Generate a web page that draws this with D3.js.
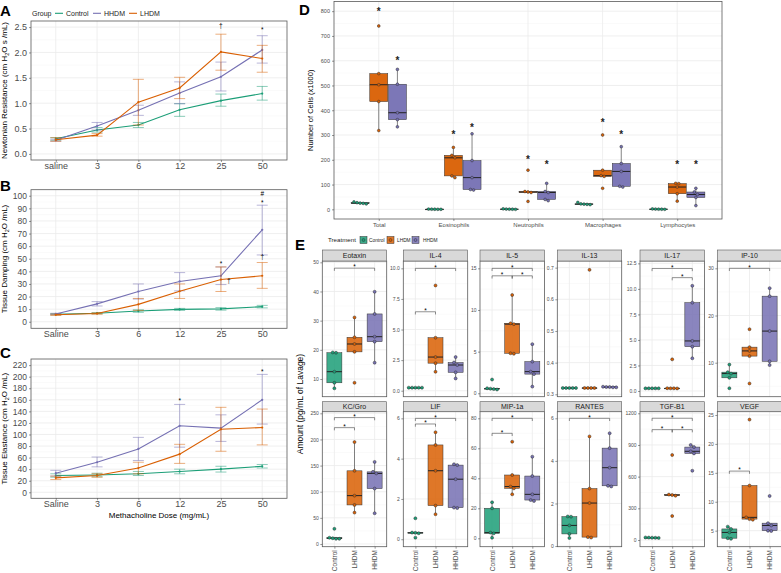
<!DOCTYPE html>
<html>
<head>
<meta charset="utf-8">
<script src="https://cdn.jsdelivr.net/npm/d3@7/dist/d3.min.js"></script>
<style>
html,body{margin:0;padding:0;background:#fff;}
svg{display:block;}
</style>
</head>
<body>
<svg id="chart" width="781" height="573"></svg>
<script>
// ================= DATA =================
// Panels A-C : methacholine dose response (mean, lower / upper error)
const doseLabelsA = ["saline","3","6","12","25","50"];
const doseLabelsBC = ["Saline","3","6","12","25","50"];
const lineGroups = ["Control","HHDM","LHDM"];

const resistanceMean = {Control:[0.30,0.47,0.57,0.87,1.05,1.19], HHDM:[0.27,0.55,0.86,1.20,1.52,2.05], LHDM:[0.28,0.37,1.02,1.30,2.01,1.88]};
const resistanceLow  = {Control:[0.27,0.43,0.52,0.74,0.94,1.06], HHDM:[0.25,0.47,0.76,0.99,1.24,1.79], LHDM:[0.25,0.35,0.57,1.09,1.65,1.61]};
const resistanceHigh = {Control:[0.32,0.52,0.62,0.99,1.18,1.33], HHDM:[0.29,0.62,0.96,1.42,1.81,2.33], LHDM:[0.32,0.40,1.47,1.51,2.36,2.14]};
const resistanceTicks = [0,0.5,1,1.5,2,2.5];
const resistanceMarks = [{dose:"25",value:2.53,label:"†"},{dose:"50",value:2.47,label:"*"}];

const dampingMean = {Control:[6.0,6.8,8.5,9.8,10.2,12.0], HHDM:[6.2,14.2,24,32,36.5,73], LHDM:[5.5,6.5,13.8,24.2,33.5,36.5]};
const dampingLow  = {Control:[5.5,6.3,7.5,9.0,9.2,11.0], HHDM:[5.7,12.5,18,24.5,29.5,53], LHDM:[5.0,6.0,9,18.5,24,26.5]};
const dampingHigh = {Control:[6.5,7.3,9.5,10.6,11.2,13.0], HHDM:[6.7,16,30,39,43.5,92.5], LHDM:[6.0,7.0,18.5,30,43.5,47]};
const dampingTicks = [0,10,20,30,40,50,60,70,80,90,100];
const dampingMarks = [{dose:"25",value:47,label:"*"},{dose:"25",value:32,label:"†",side:"right"},{dose:"50",value:102,label:"#"},{dose:"50",value:95.5,label:"*"},{dose:"50",value:51.5,label:"†"}];

const elastanceMean = {Control:[29,30,32,36,40,45], HHDM:[33,52,75,115,111,160], LHDM:[25,29,42,66,109,112]};
const elastanceLow  = {Control:[26,27,29,32,35,42], HHDM:[28,44,55,78,88,118], LHDM:[22,26,32,50,71,82]};
const elastanceHigh = {Control:[32,33,36,40,45,48], HHDM:[38,61,95,152,134,204], LHDM:[28,32,52,83,147,144]};
const elastanceTicks = [0,20,40,60,80,100,120,140,160,180,200,220];
const elastanceMarks = [{dose:"12",value:161,label:"*"},{dose:"50",value:211,label:"*"}];

// Panel D : BAL cell counts (x1000), five animals per group
const cellTypes = ["Total","Eosinophils","Neutrophils","Macrophages","Lymphocytes"];
const boxTreatments = ["Control","LHDM","HHDM"];
const cellsControl = [[30,27,25,24,22],[1,0.5,0.3,0.2,0],[2,1,0.5,0.3,0],[28,22,21,20,19],[1.5,1,0.5,0.3,0]];
const cellsLHDM = [[740,548,503,435,318],[250,218,208,135,128],[158,72,70,68,32],[300,158,136,133,85],[105,104,90,63,33]];
const cellsHHDM = [[565,505,390,362,333],[305,197,128,80,78],[105,72,68,40,35],[253,185,153,93,90],[85,70,60,48,15]];
const cellStarsLHDM = [808,310,210,360,190];
const cellStarsHHDM = [610,340,190,310,190];
const cellTicks = [0,100,200,300,400,500,600,700,800];

// Panel E : cytokines (pg/mL of lavage)
const cytokines = ["Eotaxin","IL-4","IL-5","IL-13","IL-17","IP-10","KC/Gro","LIF","MIP-1a","RANTES","TGF-B1","VEGF"];
const cytoControl = [
 [19.1,19.0,12.5,8.7,6.8],[0.25,0.25,0.25,0.25,0.25],[1.65,0.6,0.55,0.5,0.45],[0.32,0.32,0.32,0.32,0.32],
 [0.26,0.26,0.26,0.26,0.26],[9.6,8.0,7.7,6.8,4.6],[29,12,11,10,10],[1.04,0.33,0.32,0.30,0.08],
 [24,20,3.8,3.3,0.4],[1.39,1.38,0.97,0.57,0.38],[24,23,22,21,20],[5.7,5.3,4.7,3.7,3.6]];
const cytoLHDM = [
 [31.1,24.3,22,19.3,8.7],[8.6,4.33,2.75,2.25,1.55],[11.8,8.4,8.3,4.8,4.75],[0.693,0.32,0.32,0.32,0.32],
 [3.1,0.27,0.26,0.26,0.25],[17.1,13.3,12.5,11.4,5.6],[195,140,92.5,74.7,60],[5.31,4.68,3.4,1.67,1.24],
 [64.4,42.2,34.5,33.3,29.3],[5.15,2.7,2.02,0.42,0.40],[805,430,426,420,227],[24.2,12.8,7.3,7.0,6.9]];
const cytoHHDM = [
 [39.9,32.3,24.5,22.8,15.6],[2.75,2.3,2.1,1.5,1.0],[5.9,3.8,2.6,2.3,0.8],[0.324,0.323,0.323,0.322,0.322],
 [10.3,8.65,4.9,4.34,3.2],[25.8,24.1,16.7,10.3,9.5],[157,138,135,106,58.8],[3.72,3.68,2.98,1.57,1.55],
 [54.4,41.5,29.3,25.5,24.9],[5.3,4.6,3.68,2.83,2.8],[900,880,840,820,656],[11.0,6.3,5.9,5.0,4.95]];
const cytoRange = [[3.93,50.45],[-0.49,10.6],[-0.41,15.88],[0.2924,0.721],[-0.56,12.73],[2.8,31.55],
 [-5.2,253.1],[-0.37,6.33],[-5.6,84.4],[-0.03,6.31],[-63.5,1215],[2.23,25.57]];
const cytoTicks = [[10,20,30,40,50],[0,2.5,5,7.5,10],[0,5,10,15],[0.3,0.4,0.5,0.6,0.7],[0,2.5,5,7.5,10,12.5],[10,20,30],
 [0,50,100,150,200,250],[0,2,4,6],[0,20,40,60,80],[0,2,4,6],[0,300,600,900,1200],[5,10,15,20,25]];
const cytoFormat = ["d",".1f","d",".1f",".1f","d","d","d","d","d","d","d"];
const cytoBrackets = [
 [["Control","HHDM",48]],
 [["Control","LHDM",6.45],["Control","HHDM",10.0]],
 [["Control","LHDM",14.1],["LHDM","HHDM",14.1],["Control","HHDM",15.0]],
 [],
 [["LHDM","HHDM",11.1],["Control","HHDM",12.0]],
 [["Control","HHDM",30]],
 [["Control","LHDM",222.6],["Control","HHDM",241.8]],
 [["Control","LHDM",5.72],["Control","HHDM",6.0]],
 [["Control","LHDM",70],["Control","HHDM",80]],
 [["Control","HHDM",6.0]],
 [["Control","LHDM",1045],["LHDM","HHDM",1045],["Control","HHDM",1153]],
 [["Control","LHDM",15.3]]];

// ================= DRAWING =================
const FONT = "'Liberation Sans', Arial, Helvetica, sans-serif";
const COL = {Control:"#1B9E77", LHDM:"#D95F02", HHDM:"#7570B3"};
const GRID_MAJOR = "#ebebeb", GRID_MINOR = "#f5f5f5", BORDER = "#5a5a5a", AXIS_TXT = "#4d4d4d";
const svg = d3.select("#chart").attr("font-family", FONT);
svg.append("rect").attr("width",781).attr("height",573).attr("fill","#fff");

function minorTicks(ticks, domain){
  const step = ticks[1]-ticks[0], res=[];
  for(let i=-1;i<ticks.length;i++){
    const t = ticks[0] + step*(i+0.5);
    if(t>=domain[0] && t<=domain[1]) res.push(t);
  }
  return res;
}
function frame(g,l,t,r,b){ g.append("rect").attr("x",l).attr("y",t).attr("width",r-l).attr("height",b-t).attr("fill","#fff"); }
function border(g,l,t,r,b){ g.append("rect").attr("x",l).attr("y",t).attr("width",r-l).attr("height",b-t).attr("fill","none").attr("stroke",BORDER).attr("stroke-width",0.8); }
function hGrid(g,y,l,r,vals,color,w){
  g.append("g").selectAll("line").data(vals).join("line")
   .attr("x1",l).attr("x2",r).attr("y1",d=>y(d)).attr("y2",d=>y(d)).attr("stroke",color).attr("stroke-width",w);
}
function vGrid(g,xs,t,b,color,w){
  g.append("g").selectAll("line").data(xs).join("line")
   .attr("x1",d=>d).attr("x2",d=>d).attr("y1",t).attr("y2",b).attr("stroke",color).attr("stroke-width",w);
}
function styleAxis(a,fs){
  a.attr("font-family",FONT);
  a.select(".domain").remove();
  a.selectAll(".tick line").attr("stroke","#333").attr("stroke-width",0.5);
  a.selectAll(".tick text").attr("fill",AXIS_TXT).attr("font-size",fs);
}
function symbolText(g,x,y,s,fs){
  const off = s==="*" ? 0.55 : (s==="#" ? 0.36 : 0.3);
  g.append("text").attr("x",x).attr("y",y+off*fs).attr("text-anchor","middle")
   .attr("font-size",fs).attr("fill","#000").text(s);
}
function panelLetter(x,y,s){
  svg.append("text").attr("x",x).attr("y",y).attr("font-size",15).attr("font-weight","bold").attr("fill","#000").text(s);
}

function linePanel(o){
  const g = svg.append("g");
  const x = d3.scalePoint().domain(o.cats).range([o.l,o.r]).padding(0.6);
  const y = d3.scaleLinear().domain(o.domain).range([o.b,o.t]);
  frame(g,o.l,o.t,o.r,o.b);
  hGrid(g,y,o.l,o.r,minorTicks(o.ticks,o.domain),GRID_MINOR,0.5);
  hGrid(g,y,o.l,o.r,o.ticks,GRID_MAJOR,0.8);
  vGrid(g,o.cats.map(c=>x(c)),o.t,o.b,GRID_MAJOR,0.8);
  lineGroups.forEach(gr=>{
    const m=o.mean[gr], lo=o.low[gr], hi=o.high[gr], c=COL[gr];
    const eb = g.append("g").attr("stroke",c).attr("stroke-opacity",0.5).attr("stroke-width",1);
    o.cats.forEach((cat,i)=>{
      const cx=x(cat);
      eb.append("line").attr("x1",cx).attr("x2",cx).attr("y1",y(lo[i])).attr("y2",y(hi[i]));
      eb.append("line").attr("x1",cx-5.5).attr("x2",cx+5.5).attr("y1",y(lo[i])).attr("y2",y(lo[i]));
      eb.append("line").attr("x1",cx-5.5).attr("x2",cx+5.5).attr("y1",y(hi[i])).attr("y2",y(hi[i]));
    });
    g.append("path").datum(m).attr("d",d3.line().x((d,i)=>x(o.cats[i])).y(d=>y(d)))
     .attr("fill","none").attr("stroke",c).attr("stroke-width",1.1);
    g.append("g").selectAll("circle").data(m).join("circle")
     .attr("cx",(d,i)=>x(o.cats[i])).attr("cy",d=>y(d)).attr("r",1.1).attr("fill",c);
  });
  border(g,o.l,o.t,o.r,o.b);
  const ya = g.append("g").attr("transform",`translate(${o.l},0)`)
    .call(d3.axisLeft(y).tickValues(o.ticks).tickSize(2).tickPadding(2).tickFormat(d3.format(o.fmt)));
  styleAxis(ya,o.yfs);
  const xa = g.append("g").attr("transform",`translate(0,${o.b})`)
    .call(d3.axisBottom(x).tickSize(2).tickPadding(0.5));
  styleAxis(xa,9);
  o.marks.forEach(mk=>symbolText(g,x(mk.dose)+(mk.side==="right"?8:0),y(mk.value),mk.label,6.5));
  const tt = g.append("text").attr("transform",`translate(7,${(o.t+o.b)/2}) rotate(-90)`)
    .attr("text-anchor","middle").attr("font-size",8).attr("fill","#000");
  tt.append("tspan").text(o.title[0]);
  tt.append("tspan").attr("font-size",5.5).attr("dy",1.8).text("2");
  tt.append("tspan").attr("dy",-1.8).text(o.title[1]);
  return {x,y,g};
}

// ---------- Panel A ----------
panelLetter(0,15.5,"A");
linePanel({l:31,r:287,t:21,b:160,cats:doseLabelsA,domain:[-0.12,2.62],ticks:resistanceTicks,fmt:".1f",yfs:9,
  mean:resistanceMean,low:resistanceLow,high:resistanceHigh,marks:resistanceMarks,
  title:["Newtonian Resistance (cm H","O s /mL)"]});
// legend A
(function(){
  const g = svg.append("g").attr("font-size",7).attr("fill","#1a1a1a");
  g.append("text").attr("x",32).attr("y",13.3).attr("dy","0.35em").text("Group");
  const items=[["Control",55,66],["HHDM",93,104],["LHDM",129,140]];
  items.forEach(([k,kx,tx])=>{
    g.append("line").attr("x1",kx).attr("x2",kx+8).attr("y1",13.3).attr("y2",13.3).attr("stroke",COL[k]).attr("stroke-width",1.1);
    g.append("text").attr("x",tx).attr("y",13.3).attr("dy","0.35em").text(k);
  });
})();

// ---------- Panel B ----------
panelLetter(0,190.5,"B");
linePanel({l:31,r:287,t:189.7,b:328.3,cats:doseLabelsBC,domain:[-5.2,104.8],ticks:dampingTicks,fmt:"d",yfs:8.5,
  mean:dampingMean,low:dampingLow,high:dampingHigh,marks:dampingMarks,
  title:["Tissue Damping (cm H","O /mL)"]});

// ---------- Panel C ----------
panelLetter(0,357.5,"C");
linePanel({l:31,r:287,t:359,b:498.3,cats:doseLabelsBC,domain:[-10.4,230.6],ticks:elastanceTicks,fmt:"d",yfs:8.5,
  mean:elastanceMean,low:elastanceLow,high:elastanceHigh,marks:elastanceMarks,
  title:["Tissue Elastance (cm H","O /mL)"]});
svg.append("text").attr("x",159).attr("y",515).attr("dy","0.35em").attr("text-anchor","middle")
  .attr("font-size",8).attr("fill","#000").text("Methacholine Dose (mg/mL)");

// ---------- box helpers ----------
function boxStats(vals){
  const s = vals.slice().sort(d3.ascending);
  const q1=d3.quantileSorted(s,0.25), md=d3.quantileSorted(s,0.5), q3=d3.quantileSorted(s,0.75), iqr=q3-q1;
  const lo=d3.min(s.filter(v=>v>=q1-1.5*iqr-1e-9)), hi=d3.max(s.filter(v=>v<=q3+1.5*iqr+1e-9));
  return {s,q1,md,q3,lo,hi};
}
function drawBox(g,cx,w,y,vals,color,fillOp){
  const b = boxStats(vals), lc="#333";
  g.append("line").attr("x1",cx).attr("x2",cx).attr("y1",y(b.q3)).attr("y2",y(b.hi)).attr("stroke",lc).attr("stroke-width",0.6);
  g.append("line").attr("x1",cx).attr("x2",cx).attr("y1",y(b.q1)).attr("y2",y(b.lo)).attr("stroke",lc).attr("stroke-width",0.6);
  const top=y(b.q3), h=Math.max(y(b.q1)-y(b.q3),0.6);
  g.append("rect").attr("x",cx-w/2).attr("y",top).attr("width",w).attr("height",h)
   .attr("fill",color).attr("fill-opacity",fillOp).attr("stroke",lc).attr("stroke-width",0.5);
  g.append("line").attr("x1",cx-w/2).attr("x2",cx+w/2).attr("y1",y(b.md)).attr("y2",y(b.md)).attr("stroke","#222").attr("stroke-width",1);
}
function drawSwarm(g,cx,y,vals,color,r,gap){
  const pts = vals.map(v=>({v,py:y(v)})).sort((a,b)=>a.py-b.py);
  const clusters=[]; let cur=[pts[0]];
  for(let i=1;i<pts.length;i++){
    if(pts[i].py-cur[cur.length-1].py < 2*r) cur.push(pts[i]); else {clusters.push(cur); cur=[pts[i]];}
  }
  clusters.push(cur);
  clusters.forEach(c=>c.forEach((p,i)=>p.dx=(i-(c.length-1)/2)*2*r*gap));
  g.append("g").selectAll("circle").data(pts).join("circle")
   .attr("cx",p=>cx+p.dx).attr("cy",p=>p.py).attr("r",r)
   .attr("fill",color).attr("stroke","#333").attr("stroke-width",0.5);
}

// ---------- Panel D ----------
panelLetter(299,15,"D");
(function(){
  const l=334,r=722,t=1.5,b=219;
  const g=svg.append("g");
  const x=d3.scalePoint().domain(cellTypes).range([l,r]).padding(0.6);
  const y=d3.scaleLinear().domain([-39,839]).range([b,t]);
  const dodge=d3.scalePoint().domain(boxTreatments).range([-18.65,18.65]);
  const vals={Control:cellsControl,LHDM:cellsLHDM,HHDM:cellsHHDM};
  frame(g,l,t,r,b);
  hGrid(g,y,l,r,minorTicks(cellTicks,[-39,839]),GRID_MINOR,0.5);
  hGrid(g,y,l,r,cellTicks,GRID_MAJOR,0.8);
  vGrid(g,cellTypes.map(c=>x(c)),t,b,GRID_MAJOR,0.8);
  cellTypes.forEach((ct,i)=>boxTreatments.forEach(tr=>drawBox(g,x(ct)+dodge(tr),18,y,vals[tr][i],COL[tr],0.95)));
  cellTypes.forEach((ct,i)=>boxTreatments.forEach(tr=>drawSwarm(g,x(ct)+dodge(tr),y,vals[tr][i],COL[tr],1.4,1.1)));
  const stars=g.append("g");
  cellTypes.forEach((ct,i)=>{
    symbolText(stars,x(ct)+dodge("LHDM"),y(cellStarsLHDM[i]),"*",10);
    symbolText(stars,x(ct)+dodge("HHDM"),y(cellStarsHHDM[i]),"*",10);
  });
  stars.selectAll("text").attr("font-weight","bold").attr("fill","#222");
  border(g,l,t,r,b);
  const ya=g.append("g").attr("transform",`translate(${l},0)`)
    .call(d3.axisLeft(y).tickValues(cellTicks).tickSize(2).tickPadding(2));
  styleAxis(ya,5.5);
  const xa=g.append("g").attr("transform",`translate(0,${b})`)
    .call(d3.axisBottom(x).tickSize(2).tickPadding(1.5));
  styleAxis(xa,6);
  g.append("text").attr("transform",`translate(313,${(t+b)/2}) rotate(-90)`).attr("text-anchor","middle")
   .attr("font-size",7.5).attr("fill","#000").text("Number of Cells (x1000)");
})();

// ---------- Panel E ----------
panelLetter(295,250,"E");
(function(){
  // legend
  const lg=svg.append("g").attr("fill","#1a1a1a");
  lg.append("text").attr("x",328).attr("y",240).attr("dy","0.35em").attr("font-size",6.2).text("Treatment");
  [["Control",360,369],["LHDM",387,397],["HHDM",412,423]].forEach(([k,kx,tx])=>{
    lg.append("rect").attr("x",kx).attr("y",236.5).attr("width",7).attr("height",7).attr("fill",COL[k]).attr("fill-opacity",0.85).attr("stroke","#333").attr("stroke-width",0.5);
    lg.append("circle").attr("cx",kx+3.5).attr("cy",240).attr("r",1.5).attr("fill",COL[k]).attr("stroke","#333").attr("stroke-width",0.5);
    lg.append("text").attr("x",tx).attr("y",240).attr("dy","0.35em").attr("font-size",4.8).text(k);
  });
  svg.append("text").attr("transform","translate(303,404) rotate(-90)").attr("text-anchor","middle")
    .attr("font-size",8.5).attr("fill","#000").text("Amount (pg/mL of Lavage)");

  const colLefts=[322.3,403.3,480,557.3,640,717.3], panelW=64.4;
  const rows=[{st:250,pt:261,pb:396.7},{st:401.7,pt:411.7,pb:546.7}];
  const vals={Control:cytoControl,LHDM:cytoLHDM,HHDM:cytoHHDM};
  cytokines.forEach((name,k)=>{
    const row=Math.floor(k/6), col=k%6, R=rows[row];
    const l=colLefts[col], r=l+panelW, t=R.pt, b=R.pb;
    const g=svg.append("g");
    const x=d3.scalePoint().domain(boxTreatments).range([l,r]).padding(0.6);
    const y=d3.scaleLinear().domain(cytoRange[k]).range([b,t]);
    frame(g,l,t,r,b);
    hGrid(g,y,l,r,minorTicks(cytoTicks[k],cytoRange[k]),GRID_MINOR,0.5);
    hGrid(g,y,l,r,cytoTicks[k],GRID_MAJOR,0.8);
    vGrid(g,boxTreatments.map(c=>x(c)),t,b,GRID_MAJOR,0.8);
    boxTreatments.forEach(tr=>drawBox(g,x(tr),15,y,vals[tr][k],COL[tr],0.85));
    boxTreatments.forEach(tr=>drawSwarm(g,x(tr),y,vals[tr][k],COL[tr],1.5,1.1));
    cytoBrackets[k].forEach(([a,c,v])=>{
      const yy=y(v), x1=x(a), x2=x(c);
      g.append("path").attr("d",`M${x1},${yy+2.7}V${yy}H${x2}V${yy+2.7}`).attr("fill","none").attr("stroke","#444").attr("stroke-width",0.6);
      symbolText(g,(x1+x2)/2,yy-2.3,"*",6.5);
    });
    border(g,l,t,r,b);
    // strip
    g.append("rect").attr("x",l).attr("y",R.st).attr("width",panelW).attr("height",t-R.st)
     .attr("fill","#d9d9d9").attr("stroke",BORDER).attr("stroke-width",0.6);
    g.append("text").attr("x",(l+r)/2).attr("y",(R.st+t)/2).attr("dy","0.35em").attr("text-anchor","middle")
     .attr("font-size",7).attr("fill","#1a1a1a").text(name);
    const ya=g.append("g").attr("transform",`translate(${l},0)`)
      .call(d3.axisLeft(y).tickValues(cytoTicks[k]).tickSize(2).tickPadding(1.5).tickFormat(d3.format(cytoFormat[k])));
    styleAxis(ya,5);
    if(row===1){
      const xa=g.append("g").attr("transform",`translate(0,${b})`)
        .call(d3.axisBottom(x).tickSize(2));
      styleAxis(xa,6.5);
      xa.selectAll(".tick text").attr("transform","rotate(-90)").attr("text-anchor","end")
        .attr("x",-3.5).attr("y",0).attr("dy","0.35em");
    }
  });
})();
</script>
</body>
</html>
